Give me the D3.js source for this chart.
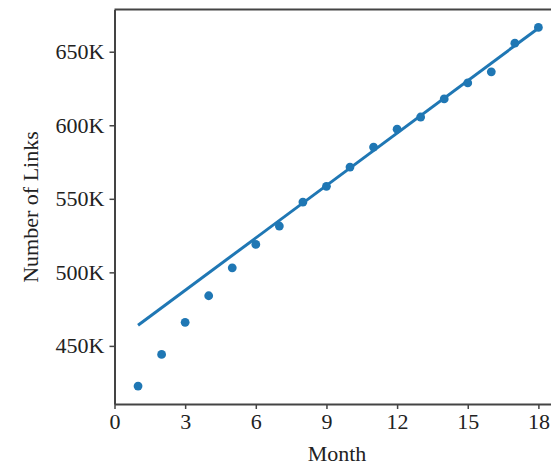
<!DOCTYPE html>
<html>
<head>
<meta charset="utf-8">
<script src="https://cdn.jsdelivr.net/npm/d3@7"></script>
<style>
  body { margin: 0; background: #fff; }
  svg { display: block; }
</style>
</head>
<body>
<div id="plot"></div>
<script>
var width = 551;
var height = 465;
var margin = {top: 9.5, left: 114.5, bottom: 404};

// data (links in thousands)
var months = [1, 2, 3, 4, 5, 6, 7, 8, 9, 10, 11, 12, 13, 14, 15, 16, 17, 18];
var links = [422.7, 444.2, 466, 484.1, 503.1, 519, 531.5, 547.8, 558.5, 571.6,
             585.2, 597.3, 605.6, 617.9, 628.8, 636.3, 655.8, 666.5];
// fitted trend line end points
var trendMonths = [1, 18];
var trendLinks = [464, 666];

var xTicks = [0, 3, 6, 9, 12, 15, 18];
var yTicks = [450, 500, 550, 600, 650];

var serif = "'Liberation Serif', 'Times New Roman', Times, serif";

var svg = d3.select("#plot")
    .append("svg")
    .attr("width", width)
    .attr("height", height);

var x = d3.scaleLinear()
    .domain([0, 18.85])
    .range([margin.left, margin.left + 18.85 * 23.55]);

var y = d3.scaleLinear()
    .domain([410.5, 678.7])
    .range([margin.bottom, margin.top]);

// trend line
var line = d3.line()
    .x(function(d, i) { return x(trendMonths[i]); })
    .y(function(d) { return y(d); });

svg.append("path")
    .datum(trendLinks)
    .attr("d", line)
    .attr("fill", "none")
    .attr("stroke", "#1f77b4")
    .attr("stroke-width", 3);

// points
svg.selectAll("circle")
    .data(links)
    .enter()
    .append("circle")
    .attr("cx", function(d, i) { return x(months[i]); })
    .attr("cy", function(d) { return y(d); })
    .attr("r", 4.4)
    .attr("fill", "#1f77b4");

// axes
svg.append("g")
    .attr("class", "axis")
    .attr("transform", "translate(0," + margin.bottom + ")")
    .call(d3.axisBottom(x).tickValues(xTicks).tickSize(5).tickPadding(4).tickSizeOuter(0));

svg.append("g")
    .attr("class", "axis")
    .attr("transform", "translate(" + margin.left + ",0)")
    .call(d3.axisLeft(y).tickValues(yTicks).tickSize(5).tickPadding(5).tickSizeOuter(0)
        .tickFormat(function(d) { return d + "K"; }));

svg.selectAll(".axis")
    .attr("font-family", null)
    .attr("font-size", null);
svg.selectAll(".axis text")
    .style("font-family", serif)
    .style("font-size", "22px")
    .attr("fill", "#222");
svg.selectAll(".axis path").attr("stroke", "#444").attr("stroke-width", 2);
svg.selectAll(".axis line").attr("stroke", "#444").attr("stroke-width", 1.5);

// top spine
svg.append("line")
    .attr("x1", margin.left).attr("x2", width + 10)
    .attr("y1", margin.top).attr("y2", margin.top)
    .attr("stroke", "#444")
    .attr("stroke-width", 2);

// axis titles
svg.append("text")
    .attr("x", 337)
    .attr("y", 461)
    .attr("text-anchor", "middle")
    .style("font-family", serif)
    .style("font-size", "22px")
    .attr("fill", "#222")
    .text("Month");

svg.append("text")
    .attr("transform", "translate(38,207) rotate(-90)")
    .attr("text-anchor", "middle")
    .style("font-family", serif)
    .style("font-size", "22px")
    .attr("fill", "#222")
    .text("Number of Links");
</script>
</body>
</html>
